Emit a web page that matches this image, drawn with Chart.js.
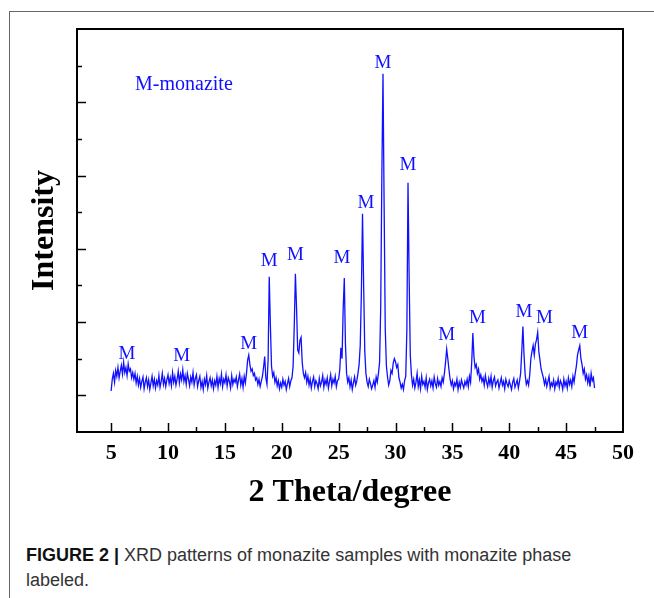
<!DOCTYPE html>
<html>
<head>
<meta charset="utf-8">
<title>XRD pattern of monazite</title>
<script src="https://cdn.jsdelivr.net/npm/chart.js@4.4.0/dist/chart.umd.min.js"></script>
<style>
  html, body { margin: 0; padding: 0; background: #fff; }
  body { width: 654px; height: 598px; position: relative; overflow: hidden; }
  .frame { position: absolute; left: 9px; top: 11px; right: 0; bottom: 0;
           border-top: 1px solid #666; border-left: 1px solid #666; }
  #wrap { position: absolute; left: 0; top: 0; width: 654px; height: 520px; }
  .caption { position: absolute; left: 26px; top: 543px; width: 620px;
             font-family: 'Liberation Sans', Arial, sans-serif; font-size: 18px;
             line-height: 25px; color: #333; }
  .caption b { color: #111; }
</style>
</head>
<body>
<div class="frame"></div>
<div id="wrap"><canvas id="xrd" width="654" height="520"></canvas></div>
<div class="caption"><b>FIGURE 2 |</b> XRD patterns of monazite samples with monazite phase<br>labeled.</div>

<script>
// 2θ grid of the scan (degrees)
const angleStart = 5.0;
const angleStep = 0.1;

// measured intensity, one row per degree (x.0 ... x.9)
const intensity = [
  6, 22, 30, 18, 34, 26, 38, 24, 33, 41,        // 5
  29, 45, 31, 38, 27, 43, 33, 36, 24, 31,       // 6
  22, 30, 17, 26, 14, 23, 11, 19, 25, 9,        // 7
  18, 24, 12, 21, 8, 17, 26, 13, 22, 10,        // 8
  20, 14, 27, 11, 19, 30, 15, 23, 12, 21,       // 9
  28, 16, 24, 13, 31, 18, 26, 14, 22, 33,       // 10
  17, 29, 21, 35, 19, 27, 15, 30, 22, 13,       // 11
  25, 18, 31, 14, 23, 28, 12, 20, 26, 11,       // 12
  19, 8, 22, 15, 27, 10, 18, 24, 13, 21,        // 13
  9, 20, 14, 26, 11, 23, 16, 29, 12, 22,        // 14
  17, 28, 13, 24, 19, 10, 27, 15, 22, 18,       // 15
  25, 12, 21, 29, 14, 23, 11, 26, 17, 30,       // 16
  48, 55, 42, 33, 36, 27, 30, 21, 24, 15,       // 17
  22, 12, 19, 26, 38, 53, 24, 15, 48, 162,      // 18
  96, 40, 26, 31, 18, 24, 13, 20, 9, 17,        // 19
  11, 22, 14, 19, 8, 16, 23, 12, 20, 24,        // 20
  40, 95, 166, 120, 62, 58, 75, 79, 45, 30,     // 21
  24, 31, 18, 26, 14, 22, 10, 19, 25, 12,       // 22
  20, 16, 9, 23, 13, 18, 27, 11, 21, 15,        // 23
  24, 10, 19, 28, 13, 22, 17, 26, 12, 20,       // 24
  22, 35, 65, 50, 118, 160, 70, 30, 18, 24,     // 25
  12, 21, 8, 17, 25, 14, 20, 30, 42, 68,        // 26
  140, 248, 150, 60, 30, 18, 12, 22, 16, 9,     // 27
  14, 20, 11, 25, 18, 30, 45, 120, 300, 439,    // 28
  260, 90, 40, 25, 14, 20, 34, 30, 44, 50,      // 29
  46, 38, 42, 24, 18, 10, 15, 8, 20, 26,        // 30
  90, 290, 160, 55, 28, 14, 22, 10, 18, 30,     // 31
  12, 21, 9, 26, 15, 19, 11, 24, 8, 17,         // 32
  22, 13, 20, 10, 25, 16, 11, 23, 14, 19,       // 33
  12, 24, 18, 30, 45, 63, 50, 35, 22, 14,       // 34
  20, 9, 17, 13, 22, 8, 18, 11, 21, 15,         // 35
  10, 19, 14, 22, 12, 26, 18, 45, 85, 52,       // 36
  38, 42, 30, 36, 22, 28, 19, 24, 14, 27,       // 37
  18, 12, 23, 15, 26, 11, 20, 25, 13, 18,       // 38
  21, 10, 17, 24, 14, 19, 9, 22, 16, 12,        // 39
  20, 14, 8, 18, 23, 11, 16, 21, 10, 19,        // 40
  30, 60, 94, 55, 28, 15, 20, 14, 28, 50,       // 41
  60, 68, 55, 70, 76, 86, 60, 48, 36, 30,       // 42
  24, 15, 22, 12, 19, 26, 10, 17, 13, 21,       // 43
  9, 18, 14, 23, 11, 20, 16, 8, 22, 13,         // 44
  19, 10, 24, 15, 21, 12, 26, 18, 30, 40,       // 45
  55, 62, 68, 50, 42, 30, 36, 22, 28, 17,       // 46
  26, 12, 30, 20, 24, 10                        // 47.0 - 47.5
];

// "M" peak labels: angle and height where each label sits
const peakAngles  = [6.4, 11.2, 17.1, 18.9, 21.2, 25.3, 27.4, 28.9, 31.1, 34.5, 37.2, 41.3, 43.1, 46.2];
const peakHeights = [56, 54, 70, 184, 191, 187, 262, 453, 315, 82, 105, 114, 105, 85];
const peakLabel = 'M';
const keyText = 'M-monazite';
const keyPos = [7.1, 424];

// axis ranges
const xMin = 2, xMax = 50, xStep = 2.5;
const yMin = -50, yMax = 500, yStep = 50;

const points = intensity.map((v, i) => ({ x: +(angleStart + i * angleStep).toFixed(2), y: v }));

const serif = "'Liberation Serif', 'Times New Roman', serif";
const blue = '#1010ff';

// box, inward ticks and the M labels
const xrdDecor = {
  id: 'xrdDecor',
  afterDatasetsDraw(chart) {
    const ctx = chart.ctx;
    const { left, right, top, bottom } = chart.chartArea;
    const sx = chart.scales.x, sy = chart.scales.y;
    ctx.save();
    ctx.strokeStyle = '#000';
    ctx.lineWidth = 1.5;
    sx.ticks.forEach(t => {
      const q = t.value / xStep;
      if (Math.abs(q - Math.round(q)) > 1e-6 || t.value <= xMin || t.value >= xMax) return;
      const len = t.value % 5 === 0 ? 9 : 5;
      const px = Math.round(sx.getPixelForValue(t.value)) + 0.5;
      ctx.beginPath(); ctx.moveTo(px, bottom); ctx.lineTo(px, bottom - len); ctx.stroke();
    });
    sy.ticks.forEach(t => {
      if (t.value <= yMin || t.value >= yMax) return;
      const len = t.value % 100 === 0 ? 9 : 5;
      const py = Math.round(sy.getPixelForValue(t.value)) + 0.5;
      ctx.beginPath(); ctx.moveTo(left, py); ctx.lineTo(left + len, py); ctx.stroke();
    });
    ctx.lineWidth = 2;
    ctx.strokeRect(left, top, right - left, bottom - top);

    ctx.fillStyle = blue;
    ctx.textBaseline = 'middle';
    ctx.textAlign = 'center';
    ctx.font = '19px ' + serif;
    peakAngles.forEach((a, i) => {
      ctx.fillText(peakLabel, sx.getPixelForValue(a), sy.getPixelForValue(peakHeights[i]));
    });
    ctx.textAlign = 'left';
    ctx.font = '20px ' + serif;
    ctx.fillText(keyText, sx.getPixelForValue(keyPos[0]), sy.getPixelForValue(keyPos[1]));
    ctx.restore();
  }
};

try {
  const ctx = document.getElementById('xrd').getContext('2d');
  window.xrdChart = new Chart(ctx, {
    type: 'line',
    data: {
      datasets: [{
        label: 'Monazite',
        data: points,
        borderColor: blue,
        borderWidth: 1.3,
        pointRadius: 0,
        tension: 0,
        fill: false
      }]
    },
    options: {
      responsive: false,
      animation: false,
      devicePixelRatio: 1,
      layout: { padding: { top: 29, right: 31, left: 0, bottom: 0 } },
      plugins: { legend: { display: false }, tooltip: { enabled: false } },
      scales: {
        x: {
          type: 'linear',
          min: xMin,
          max: xMax,
          afterFit: s => { s.height = 88; },
          grid: { display: false, drawTicks: false },
          border: { display: false },
          ticks: {
            stepSize: xStep,
            autoSkip: false,
            maxRotation: 0,
            padding: 8,
            color: '#000',
            font: { family: serif, size: 22, weight: 'bold' },
            callback: v => (v % 5 === 0 ? v : '')
          },
          title: {
            display: true,
            text: '2 Theta/degree',
            color: '#000',
            font: { family: serif, size: 32, weight: 'bold' },
            padding: { top: 0, bottom: 8 }
          }
        },
        y: {
          min: yMin,
          max: yMax,
          afterFit: s => { s.width = 77; },
          grid: { display: false, drawTicks: false },
          border: { display: false },
          ticks: { stepSize: yStep, display: false },
          title: {
            display: true,
            text: 'Intensity',
            color: '#000',
            font: { family: serif, size: 32, weight: 'bold' },
            padding: { top: 26, bottom: 0 }
          }
        }
      }
    },
    plugins: [xrdDecor]
  });
} catch (err) {
  console.error('[XRD] chart error:', err);
}
</script>
</body>
</html>
